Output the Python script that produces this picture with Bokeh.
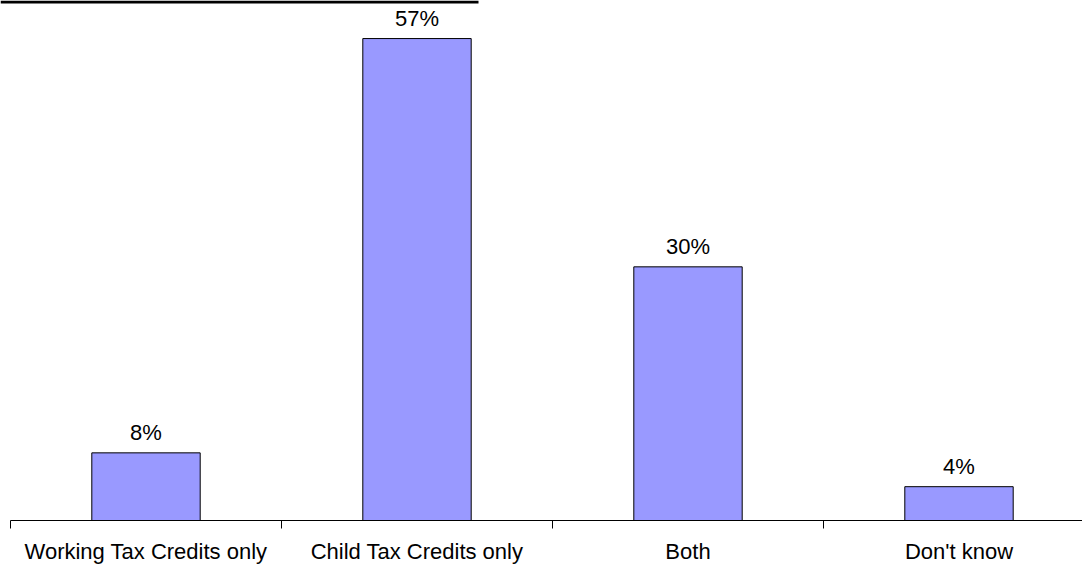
from bokeh.plotting import figure
from bokeh.models import FixedTicker, ColumnDataSource, BoxAnnotation, Range1d
from bokeh.core.properties import value
from bokeh.embed import file_html
from bokeh.resources import INLINE

categories = ["Working Tax Credits only", "Child Tax Credits only", "Both", "Don't know"]
values = [8, 57, 30, 4]
value_labels = ["8%", "57%", "30%", "4%"]

FONT = "Liberation Sans"
centers = [i + 0.5 for i in range(len(categories))]

src = ColumnDataSource(dict(x=centers, top=values, lab=value_labels))

X0 = -10 / 271
X1 = 1072 / 271
Y1 = 61.5

p = figure(width=1082, height=566, output_backend="svg", toolbar_location=None,
           x_range=Range1d(X0, X1), y_range=Range1d(0, Y1),
           min_border_left=0, min_border_right=0, min_border_top=0, min_border_bottom=44)
p.outline_line_color = None
p.grid.visible = False
p.yaxis.visible = False

p.vbar(x="x", top="top", bottom=0, width=0.4, source=src,
       fill_color="#9999FF", line_color="black", line_width=1)
p.text(x="x", y="top", text="lab", source=src, text_align="center",
       text_baseline="bottom", y_offset=-8, text_font=value(FONT),
       text_font_size="22px", text_color="black")

ax = p.xaxis[0]
ax.bounds = (0, X1)
ax.ticker = FixedTicker(ticks=centers, minor_ticks=list(range(len(categories) + 1)))
ax.major_label_overrides = {c: lab for c, lab in zip(centers, categories)}
ax.major_tick_in = 0
ax.major_tick_out = 0
ax.minor_tick_in = 0
ax.minor_tick_out = 8
ax.minor_tick_line_color = "black"
ax.axis_line_color = "black"
ax.major_label_standoff = 10
ax.major_label_text_font = FONT
ax.major_label_text_font_size = "22px"
ax.major_label_text_color = "black"

title_rule = BoxAnnotation(left=None, right=478, top=None, bottom=Y1 - 0.36,
                           right_units="screen",
                           fill_color="black", fill_alpha=1, line_color=None)
p.add_layout(title_rule)

open("out.html", "w").write(file_html(p, INLINE))
